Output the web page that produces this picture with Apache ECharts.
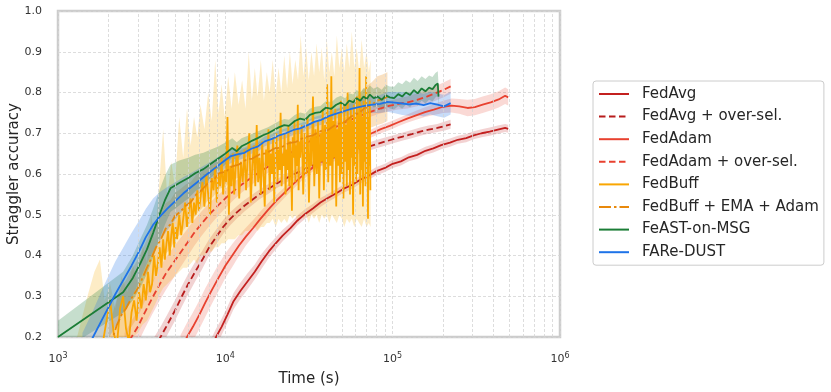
<!DOCTYPE html>
<html><head><meta charset="utf-8">
<script src="https://cdn.jsdelivr.net/npm/echarts@6/dist/echarts.min.js"></script>
<style>html,body{margin:0;padding:0;background:#fff}#c{width:831px;height:392px}</style>
</head><body><div id="c"></div><script>
// ---- data: [time (s), mean accuracy, band half-width] ----
const fedAvg = [[8000,0.165,0.02],[8800,0.20,0.02],[9500,0.225,0.02],[10300,0.255,0.02],[11200,0.288,0.02],[12300,0.313,0.02],[13600,0.337,0.02],[15000,0.36,0.018],[16500,0.386,0.018],[18200,0.41,0.016],[20000,0.43,0.015],[22000,0.449,0.014],[24500,0.467,0.013],[27000,0.486,0.012],[30000,0.502,0.012],[33500,0.516,0.011],[37000,0.53,0.011],[41000,0.541,0.01],[46000,0.553,0.01],[51000,0.564,0.01],[57000,0.573,0.01],[64000,0.586,0.01],[72000,0.596,0.01],[80000,0.607,0.01],[90000,0.615,0.01],[100000,0.625,0.01],[112000,0.631,0.01],[125000,0.641,0.01],[140000,0.647,0.01],[157000,0.657,0.01],[175000,0.663,0.01],[195000,0.671,0.01],[220000,0.677,0.01],[245000,0.684,0.01],[275000,0.688,0.01],[305000,0.695,0.01],[340000,0.70,0.01],[380000,0.704,0.01],[425000,0.709,0.01],[470000,0.713,0.01],[490000,0.711,0.01]];
const fedAvgOS = [[3700,0.17,0.025],[4100,0.20,0.025],[4500,0.23,0.025],[5000,0.265,0.025],[5500,0.30,0.025],[6000,0.33,0.025],[6600,0.36,0.024],[7300,0.39,0.022],[8000,0.42,0.02],[8800,0.445,0.018],[9700,0.47,0.017],[10700,0.49,0.016],[11800,0.507,0.015],[13000,0.522,0.014],[14500,0.537,0.013],[16000,0.55,0.012],[18000,0.563,0.012],[20000,0.575,0.011],[22500,0.587,0.011],[25000,0.597,0.01],[28000,0.607,0.01],[31500,0.616,0.01],[35000,0.625,0.01],[40000,0.634,0.01],[45000,0.641,0.01],[50000,0.648,0.01],[57000,0.655,0.01],[64000,0.661,0.01],[72000,0.667,0.01],[81000,0.674,0.01],[91000,0.68,0.01],[102000,0.686,0.01],[115000,0.692,0.01],[130000,0.698,0.01],[146000,0.704,0.01],[164000,0.709,0.01],[185000,0.713,0.01],[205000,0.718,0.011],[222000,0.722,0.011]];
const fedAdam = [[5400,0.17,0.035],[5900,0.20,0.035],[6400,0.225,0.035],[7000,0.255,0.035],[7600,0.285,0.035],[8300,0.315,0.034],[9100,0.345,0.033],[10000,0.375,0.03],[11000,0.40,0.028],[12100,0.425,0.025],[13300,0.447,0.022],[14700,0.468,0.02],[16200,0.49,0.018],[18000,0.512,0.016],[20000,0.533,0.014],[22300,0.552,0.013],[25000,0.572,0.012],[28000,0.591,0.011],[31500,0.608,0.01],[35500,0.625,0.01],[40000,0.64,0.01],[45000,0.653,0.01],[51000,0.666,0.01],[58000,0.678,0.01],[66000,0.689,0.01],[75000,0.70,0.01],[85000,0.71,0.01],[96000,0.718,0.01],[108000,0.727,0.01],[122000,0.736,0.01],[138000,0.744,0.011],[156000,0.752,0.012],[176000,0.758,0.013],[200000,0.765,0.015],[225000,0.768,0.017],[250000,0.766,0.018],[280000,0.762,0.02],[310000,0.764,0.02],[345000,0.77,0.02],[385000,0.776,0.02],[430000,0.783,0.02],[470000,0.792,0.02],[490000,0.788,0.02]];
const fedAdamOS = [[2500,0.17,0.04],[2750,0.20,0.04],[3000,0.225,0.04],[3300,0.26,0.04],[3650,0.295,0.04],[4000,0.325,0.04],[4400,0.355,0.04],[4850,0.38,0.038],[5350,0.405,0.036],[5900,0.43,0.034],[6500,0.455,0.032],[7200,0.478,0.03],[8000,0.50,0.028],[8900,0.52,0.026],[10000,0.54,0.024],[11200,0.558,0.022],[12600,0.575,0.02],[14200,0.59,0.018],[16000,0.605,0.016],[18000,0.618,0.015],[20500,0.632,0.014],[23000,0.645,0.013],[26000,0.658,0.012],[29500,0.672,0.012],[33500,0.685,0.012],[38000,0.698,0.012],[43000,0.71,0.012],[49000,0.722,0.012],[56000,0.733,0.012],[64000,0.743,0.012],[73000,0.752,0.012],[83000,0.76,0.012],[95000,0.767,0.013],[108000,0.772,0.014],[123000,0.776,0.015],[140000,0.782,0.016],[160000,0.79,0.017],[180000,0.798,0.018],[200000,0.806,0.018],[222000,0.815,0.018]];
const fedBuffEMA = [[2000,0.17,0.06],[2130,0.20,0.06],[2250,0.23,0.065],[2400,0.255,0.07],[2550,0.27,0.07],[2700,0.29,0.07],[2850,0.305,0.07],[3000,0.32,0.07],[3200,0.345,0.07],[3400,0.37,0.07],[3600,0.392,0.07],[3850,0.42,0.068],[4100,0.438,0.065],[4400,0.466,0.062],[4700,0.476,0.06],[5000,0.497,0.057],[5400,0.508,0.055],[5800,0.522,0.052],[6200,0.53,0.05],[6700,0.55,0.048],[7200,0.56,0.045],[7800,0.576,0.043],[8500,0.585,0.04],[9200,0.602,0.038],[10000,0.605,0.036],[11000,0.619,0.034],[12000,0.623,0.032],[13200,0.634,0.03],[14500,0.638,0.03],[16000,0.648,0.03],[17600,0.651,0.03],[19500,0.662,0.03],[21500,0.665,0.03],[24000,0.676,0.03],[26500,0.679,0.03],[29500,0.69,0.03],[33000,0.694,0.03],[37000,0.705,0.032],[41000,0.708,0.034],[46000,0.722,0.036],[51000,0.726,0.038],[57000,0.742,0.04],[63000,0.75,0.045],[69000,0.764,0.05],[75000,0.77,0.055],[81000,0.78,0.06],[87000,0.784,0.06],[93000,0.79,0.06]];
const feast = [[1000,0.20,0.04],[2450,0.31,0.05],[2800,0.345,0.055],[3100,0.38,0.06],[3400,0.415,0.06],[3700,0.455,0.06],[4000,0.495,0.06],[4350,0.535,0.06],[4700,0.565,0.058],[5300,0.578,0.055],[6000,0.59,0.05],[6600,0.602,0.045],[7400,0.612,0.04],[8200,0.625,0.035],[9000,0.637,0.03],[10000,0.65,0.027],[11000,0.664,0.024],[11700,0.656,0.022],[12500,0.668,0.02],[13500,0.675,0.018],[14500,0.682,0.017],[15600,0.688,0.016],[16800,0.695,0.015],[18000,0.70,0.015],[19500,0.708,0.015],[21000,0.715,0.015],[22500,0.72,0.015],[24000,0.718,0.015],[26000,0.73,0.015],[28000,0.736,0.015],[30000,0.733,0.015],[32000,0.745,0.015],[34500,0.75,0.015],[37000,0.752,0.015],[40000,0.763,0.016],[43000,0.76,0.016],[46000,0.77,0.017],[49000,0.775,0.017],[52000,0.768,0.018],[55000,0.78,0.018],[58000,0.776,0.019],[61000,0.786,0.02],[64000,0.78,0.02],[67000,0.79,0.021],[70000,0.784,0.022],[73000,0.795,0.022],[77000,0.786,0.023],[81000,0.79,0.024],[86000,0.782,0.025],[91000,0.793,0.026],[96000,0.788,0.027],[102000,0.786,0.028],[108000,0.796,0.029],[114000,0.79,0.03],[120000,0.80,0.03],[127000,0.794,0.03],[134000,0.806,0.03],[141000,0.798,0.03],[149000,0.81,0.03],[157000,0.803,0.03],[165000,0.812,0.03],[173000,0.808,0.03],[180000,0.818,0.03],[186000,0.822,0.03],[188000,0.79,0.03]];
const fareDust = [[1400,0.15,0.06],[1620,0.20,0.065],[1900,0.255,0.075],[2200,0.305,0.08],[2500,0.345,0.08],[2750,0.375,0.08],[3050,0.41,0.075],[3350,0.445,0.07],[3700,0.475,0.065],[4050,0.495,0.06],[4500,0.515,0.053],[5000,0.533,0.046],[5600,0.552,0.04],[6200,0.567,0.035],[7000,0.584,0.03],[7800,0.60,0.025],[8700,0.615,0.022],[9700,0.63,0.02],[10700,0.643,0.017],[11800,0.648,0.015],[13000,0.652,0.013],[14300,0.662,0.012],[15700,0.668,0.012],[17200,0.68,0.012],[19000,0.686,0.012],[21000,0.695,0.012],[23000,0.70,0.012],[25500,0.708,0.012],[28000,0.712,0.012],[31000,0.72,0.012],[34000,0.728,0.012],[37500,0.733,0.012],[41500,0.742,0.012],[46000,0.748,0.012],[51000,0.754,0.013],[56500,0.76,0.014],[62500,0.764,0.016],[69000,0.768,0.018],[76000,0.77,0.02],[84000,0.772,0.022],[93000,0.777,0.024],[103000,0.775,0.026],[114000,0.773,0.028],[126000,0.771,0.028],[139000,0.773,0.028],[153000,0.769,0.028],[168000,0.774,0.028],[185000,0.77,0.028],[203000,0.766,0.028],[222000,0.774,0.028]];
// FedBuff: noisy mean [time, accuracy]
const fedBuff = [[1750,0.15],[1860,0.19],[1950,0.24],[2050,0.29],[2150,0.21],[2250,0.18],[2350,0.27],[2450,0.30],[2550,0.22],[2650,0.19],[2750,0.26],[2850,0.29],[2950,0.24],[3050,0.31],[3150,0.27],[3250,0.33],[3350,0.29],[3450,0.36],[3550,0.31],[3650,0.33],[3750,0.40],[3850,0.35],[3950,0.38],[4050,0.42],[4150,0.37],[4250,0.44],[4350,0.39],[4450,0.43],[4550,0.46],[4650,0.40],[4750,0.45],[4850,0.48],[4950,0.42],[5050,0.47],[5150,0.44],[5300,0.50],[5450,0.45],[5600,0.49],[5750,0.53],[5900,0.47],[6050,0.51],[6200,0.54],[6350,0.48],[6500,0.53],[6650,0.50],[6800,0.56],[6950,0.51],[7100,0.54],[7300,0.58],[7500,0.52],[7700,0.60],[7900,0.55],[8100,0.50],[8300,0.59],[8500,0.56],[8700,0.62],[8900,0.53],[9100,0.60],[9300,0.57],[9500,0.64],[9700,0.55],[9900,0.61],[10100,0.58],[10300,0.74],[10500,0.50],[10700,0.62],[10900,0.57],[11100,0.65],[11300,0.55],[11500,0.61],[11800,0.67],[12100,0.54],[12400,0.63],[12700,0.58],[13000,0.66],[13300,0.56],[13600,0.64],[13900,0.70],[14200,0.53],[14500,0.62],[14800,0.67],[15100,0.57],[15400,0.72],[15700,0.58],[16000,0.64],[16300,0.55],[16600,0.68],[16900,0.60],[17200,0.52],[17500,0.66],[17800,0.62],[18100,0.71],[18400,0.56],[18700,0.65],[19000,0.60],[19300,0.69],[19600,0.53],[19900,0.64],[20200,0.70],[20500,0.58],[20800,0.66],[21100,0.61],[21400,0.75],[21700,0.57],[22000,0.65],[22300,0.62],[22600,0.70],[22900,0.55],[23200,0.66],[23500,0.61],[23800,0.72],[24100,0.57],[24400,0.68],[24700,0.63],[25000,0.51],[25300,0.69],[25600,0.64],[25900,0.73],[26200,0.58],[26500,0.67],[26800,0.62],[27100,0.77],[27400,0.56],[27700,0.68],[28000,0.64],[28600,0.72],[29200,0.55],[29800,0.70],[30400,0.60],[31000,0.74],[31600,0.53],[32200,0.69],[32800,0.62],[33400,0.79],[34000,0.57],[34600,0.71],[35200,0.60],[35800,0.73],[36400,0.54],[37000,0.70],[37600,0.63],[38200,0.76],[38800,0.56],[39400,0.72],[40000,0.61],[40600,0.82],[41200,0.58],[41800,0.74],[42400,0.62],[43000,0.84],[43600,0.55],[44200,0.73],[44800,0.64],[45400,0.76],[46000,0.52],[46600,0.71],[47200,0.62],[47800,0.75],[48400,0.58],[49000,0.78],[49600,0.60],[50200,0.73],[50800,0.54],[51400,0.77],[52000,0.63],[52600,0.72],[53200,0.57],[53800,0.80],[54400,0.61],[55000,0.74],[55600,0.55],[56200,0.76],[56800,0.64],[57400,0.73],[58000,0.50],[58600,0.77],[59200,0.62],[59800,0.74],[60400,0.58],[61000,0.79],[61600,0.60],[62200,0.75],[62800,0.66],[63400,0.86],[64000,0.55],[64600,0.77],[65200,0.61],[65800,0.74],[66400,0.52],[67000,0.78],[67600,0.63],[68200,0.75],[68800,0.57],[69400,0.84],[70000,0.60],[70600,0.76],[71200,0.49],[71800,0.74],[72400,0.62],[73000,0.78],[73600,0.56]];
// FedBuff band: [time, low, high]
const fedBuffBand = [[1300,0.15,0.2],[1500,0.15,0.3],[1650,0.16,0.36],[1780,0.17,0.39],[1900,0.17,0.29],[2050,0.18,0.33],[2200,0.18,0.27],[2400,0.19,0.35],[2600,0.19,0.31],[2800,0.2,0.38],[3000,0.21,0.33],[3200,0.23,0.43],[3400,0.24,0.38],[3600,0.26,0.5],[3800,0.28,0.44],[4000,0.3,0.56],[4250,0.32,0.71],[4500,0.33,0.54],[4750,0.34,0.63],[5000,0.35,0.57],[5300,0.36,0.74],[5600,0.37,0.64],[5900,0.37,0.76],[6200,0.38,0.67],[6500,0.39,0.74],[6800,0.38,0.69],[7100,0.40,0.77],[7500,0.40,0.71],[7900,0.41,0.80],[8300,0.41,0.73],[8700,0.42,0.88],[9100,0.42,0.75],[9500,0.43,0.82],[9900,0.43,0.74],[10400,0.44,0.84],[10900,0.44,0.76],[11400,0.44,0.85],[12000,0.45,0.77],[12600,0.45,0.83],[13200,0.46,0.76],[13800,0.46,0.9],[14400,0.47,0.78],[15000,0.47,0.86],[15600,0.46,0.79],[16300,0.47,0.88],[17000,0.47,0.78],[17700,0.48,0.85],[18400,0.48,0.80],[19200,0.49,0.88],[20000,0.47,0.79],[20800,0.49,0.86],[21600,0.48,0.80],[22500,0.49,0.89],[23400,0.48,0.81],[24300,0.5,0.9],[25200,0.49,0.82],[26200,0.5,0.88],[27200,0.48,0.83],[28200,0.5,0.94],[29300,0.49,0.84],[30400,0.5,0.91],[31500,0.48,0.83],[32700,0.5,0.9],[33900,0.49,0.84],[35100,0.5,0.92],[36400,0.48,0.85],[37700,0.5,0.91],[39000,0.49,0.83],[40400,0.5,0.93],[41800,0.48,0.85],[43300,0.5,0.9],[44800,0.49,0.84],[46400,0.48,0.94],[48000,0.5,0.86],[49700,0.49,0.91],[51400,0.47,0.85],[53200,0.49,0.92],[55100,0.48,0.86],[57000,0.49,0.95],[59000,0.47,0.86],[61000,0.49,0.91],[63100,0.48,0.85],[65300,0.47,0.93],[67500,0.49,0.86],[69800,0.47,0.9],[72000,0.48,0.85],[73800,0.47,0.88]];
const minorTicks = [2000,3000,4000,5000,6000,7000,8000,9000,20000,30000,40000,50000,60000,70000,80000,90000,200000,300000,400000,500000,600000,700000,800000,900000];
const legendNames = ['FedAvg','FedAvg + over-sel.','FedAdam','FedAdam + over-sel.','FedBuff','FedBuff + EMA + Adam','FeAST-on-MSG','FARe-DUST'];
const yTicks = {min:0.2, max:1.0, step:0.1};

const FONT = 'DejaVu Sans';
const gridStyle = {color:'#d4d4d4', width:0.8, type:[3,2]};

// band drawn as one polygon: rows are [time, low, high]
function band(id, rows, color, opacity){
  return {
    name:id+'_band', type:'custom', data:rows, silent:true, animation:false,
    encode:{x:0, y:[1,2]},
    renderItem:function(params, api){
      if (params.dataIndex !== 0) return null;
      const pts = [];
      for (let i = 0; i < rows.length; i++) pts.push(api.coord([rows[i][0], rows[i][1]]));
      for (let i = rows.length - 1; i >= 0; i--) pts.push(api.coord([rows[i][0], rows[i][2]]));
      const cs = params.coordSys;
      return {type:'group', clipPath:{type:'rect', shape:{x:cs.x, y:cs.y, width:cs.width, height:cs.height}},
        children:[{type:'polygon', shape:{points:pts}, style:{fill:color, opacity:opacity}}]};
    }
  };
}
function line(name, data, color, type, width){
  return {name:name, type:'line', data:data, symbol:'none', showSymbol:false, silent:true, animation:false,
    itemStyle:{color:color}, lineStyle:{color:color, width:width||1.8, type:type||'solid'}};
}
function smooth(name, arr, color, type, bandOpacity){
  return [band(name, arr.map(d=>[d[0], d[1]-d[2], d[1]+d[2]]), color, bandOpacity),
          line(name, arr.map(d=>[d[0], d[1]]), color, type)];
}

const series = [];
series.push({name:'grid', type:'line', z:1, data:[[1000,0]], symbol:'none', silent:true, animation:false,
  lineStyle:{opacity:0},
  markLine:{silent:true, symbol:['none','none'], label:{show:false}, animation:false,
    lineStyle:gridStyle, data:minorTicks.map(v=>({xAxis:v}))}});
series.push(...smooth('FedAvg', fedAvg, '#c3201f', 'solid', 0.2));
series.push(...smooth('FedAvg + over-sel.', fedAvgOS, '#b81c1c', [6.5,3.5], 0.2));
series.push(...smooth('FedAdam', fedAdam, '#e8412f', 'solid', 0.2));
series.push(...smooth('FedAdam + over-sel.', fedAdamOS, '#e8412f', [6.5,3.5], 0.2));
series.push(band('FedBuff', fedBuffBand, '#f9b21a', 0.25));
series.push(line('FedBuff', fedBuff, '#f9a602', 'solid', 1.8));
series.push(...smooth('FedBuff + EMA + Adam', fedBuffEMA, '#e8890c', [12,3,2.5,3], 0.25));
series.push(...smooth('FeAST-on-MSG', feast, '#1b7d36', 'solid', 0.25));
series.push(...smooth('FARe-DUST', fareDust, '#1e73e8', 'solid', 0.25));

const chart = echarts.init(document.getElementById('c'), null, {renderer:'canvas'});
chart.setOption({
  animation:false,
  backgroundColor:'#ffffff',
  textStyle:{fontFamily:FONT},
  grid:{left:58, top:11, right:271, bottom:55, show:true, borderColor:'#cccccc', borderWidth:2.5,
        backgroundColor:'transparent', containLabel:false, outerBoundsMode:'none'},
  legend:{
    data:legendNames, orient:'vertical', left:593, top:81,
    itemWidth:30, itemHeight:15, itemGap:7.6,
    padding:[5.5,5,5.5,5], borderColor:'#cccccc', borderWidth:1, borderRadius:3, backgroundColor:'#fff',
    itemStyle:{opacity:0},
    textStyle:{fontFamily:FONT, fontSize:15, color:'#262626', padding:[0,0,0,8]},
    selectedMode:false
  },
  xAxis:{
    type:'log', logBase:10, min:1000, max:1000000,
    name:'Time (s)', nameLocation:'middle', nameGap:35, nameMoveOverlap:false,
    nameTextStyle:{fontFamily:FONT, fontSize:15, color:'#262626'},
    axisLine:{show:false}, axisTick:{show:false},
    axisLabel:{margin:15, color:'#333',
      formatter:function(v){ return '{b|10}{s|' + Math.round(Math.log10(v)) + '}'; },
      rich:{b:{fontSize:11, color:'#333', fontFamily:FONT},
            s:{fontSize:8, color:'#333', fontFamily:FONT, padding:[0,0,6,0]}}},
    splitLine:{show:true, lineStyle:gridStyle}
  },
  yAxis:{
    type:'value', min:yTicks.min, max:yTicks.max, interval:yTicks.step,
    name:'Straggler accuracy', nameLocation:'middle', nameGap:36, nameMoveOverlap:false,
    nameTextStyle:{fontFamily:FONT, fontSize:15, color:'#262626'},
    axisLine:{show:false}, axisTick:{show:false},
    axisLabel:{margin:16, fontSize:11, color:'#333', formatter:v=>v.toFixed(1)},
    splitLine:{show:true, lineStyle:gridStyle}
  },
  series:series
});
</script></body></html>
